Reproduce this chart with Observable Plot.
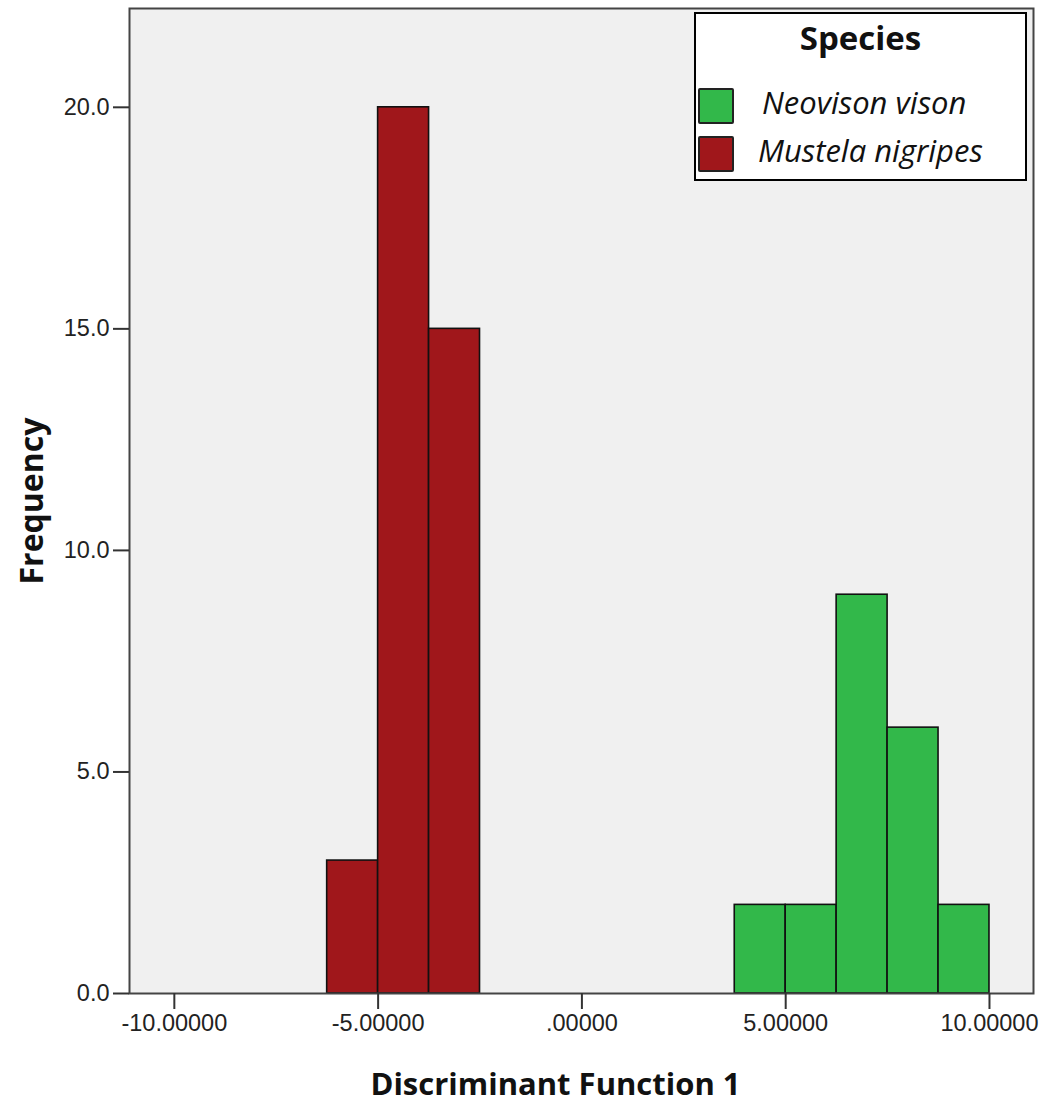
<!DOCTYPE html>
<html><head><meta charset="utf-8">
<script src="https://cdn.jsdelivr.net/npm/d3@7"></script>
<script src="https://cdn.jsdelivr.net/npm/@observablehq/plot@0.6"></script>
<style>
body{margin:0;background:#fff;}
#wrap{position:relative;width:1044px;height:1103px;}
#legend{position:absolute;left:694px;top:12px;width:333px;height:169px;box-sizing:border-box;border:2px solid #000;background:#fff;font-family:"Open Sans",sans-serif;color:#111;}
#legend .title{position:absolute;left:0;right:0;top:2px;text-align:center;font-weight:bold;font-size:33px;line-height:44px;}
#legend .item{position:absolute;left:2px;height:36px;}
#legend .sw{position:absolute;left:0;top:0;width:36px;height:36px;box-sizing:border-box;border:2px solid #222;border-radius:2px;}
#legend .lab{position:absolute;white-space:nowrap;font-style:italic;font-size:31px;line-height:36px;top:-4px;}
</style></head><body><div id="wrap"></div>
<script>
const species = ["Neovison vison", "Mustela nigripes"];
const speciesColors = ["#32b84a", "#a0171b"];
const binWidth = 1.25;
const mustelaBinStarts = [-6.25, -5.0, -3.75];
const mustelaCounts = [3, 20, 15];
const neovisonBinStarts = [3.75, 5.0, 6.25, 7.5, 8.75];
const neovisonCounts = [2, 2, 9, 6, 2];
const xTicks = [-10, -5, 0, 5, 10];
const xTickLabels = ["-10.00000", "-5.00000", ".00000", "5.00000", "10.00000"];
const yTicks = [0, 5, 10, 15, 20];
const yTickLabels = ["0.0", "5.0", "10.0", "15.0", "20.0"];
const xTitle = "Discriminant Function 1";
const yTitle = "Frequency";
const legendTitle = "Species";

const bins = [
  ...mustelaBinStarts.map((s, i) => ({species: species[1], x1: s, x2: s + binWidth, count: mustelaCounts[i]})),
  ...neovisonBinStarts.map((s, i) => ({species: species[0], x1: s, x2: s + binWidth, count: neovisonCounts[i]}))
];

const chart = Plot.plot({
  width: 1044, height: 1103,
  marginLeft: 129, marginRight: 11, marginTop: 8, marginBottom: 110,
  style: {background: "transparent", fontFamily: "'Liberation Sans', Arial, sans-serif", fontSize: "23.5px", color: "#222"},
  x: {domain: [-11.1, 11.08]},
  y: {domain: [0, 22.23]},
  color: {domain: species, range: speciesColors},
  marks: [
    Plot.frame({fill: "#f0f0f0"}),
    Plot.rect(bins, {x1: "x1", x2: "x2", y1: 0, y2: "count", fill: "species", stroke: "#111", strokeWidth: 1.6}),
    Plot.frame({stroke: "#444", strokeWidth: 2}),
    Plot.axisX({ticks: xTicks, tickFormat: d => xTickLabels[xTicks.indexOf(d)], tickSize: 16, tickPadding: 5, label: null, stroke: "#333", strokeWidth: 2}),
    Plot.axisY({ticks: yTicks, tickFormat: d => yTickLabels[yTicks.indexOf(d)], tickSize: 16, tickPadding: 4, label: null, stroke: "#333", strokeWidth: 2}),
    Plot.text([xTitle], {text: d => d, frameAnchor: "bottom", textAnchor: "middle", lineAnchor: "middle", dx: -26, dy: 92, fontSize: 31, fontWeight: "bold", fontFamily: "'Open Sans', sans-serif", fill: "#111"}),
    Plot.text([yTitle], {text: d => d, frameAnchor: "left", textAnchor: "middle", lineAnchor: "middle", dx: -97, rotate: -90, fontSize: 32, fontWeight: "bold", fontFamily: "'Open Sans', sans-serif", fill: "#111"})
  ]
});

const wrap = document.getElementById("wrap");
wrap.appendChild(chart);

const legend = document.createElement("div");
legend.id = "legend";
const t = document.createElement("div");
t.className = "title";
t.textContent = legendTitle;
legend.appendChild(t);
const itemTops = [74, 122];
species.forEach((s, i) => {
  const item = document.createElement("div");
  item.className = "item";
  item.style.top = itemTops[i] + "px";
  const sw = document.createElement("div");
  sw.className = "sw";
  sw.style.background = speciesColors[i];
  const lab = document.createElement("div");
  lab.className = "lab";
  lab.style.left = (i === 0 ? 64 : 60) + "px";
  lab.textContent = s;
  item.appendChild(sw);
  item.appendChild(lab);
  legend.appendChild(item);
});
wrap.appendChild(legend);
</script>
</body></html>
